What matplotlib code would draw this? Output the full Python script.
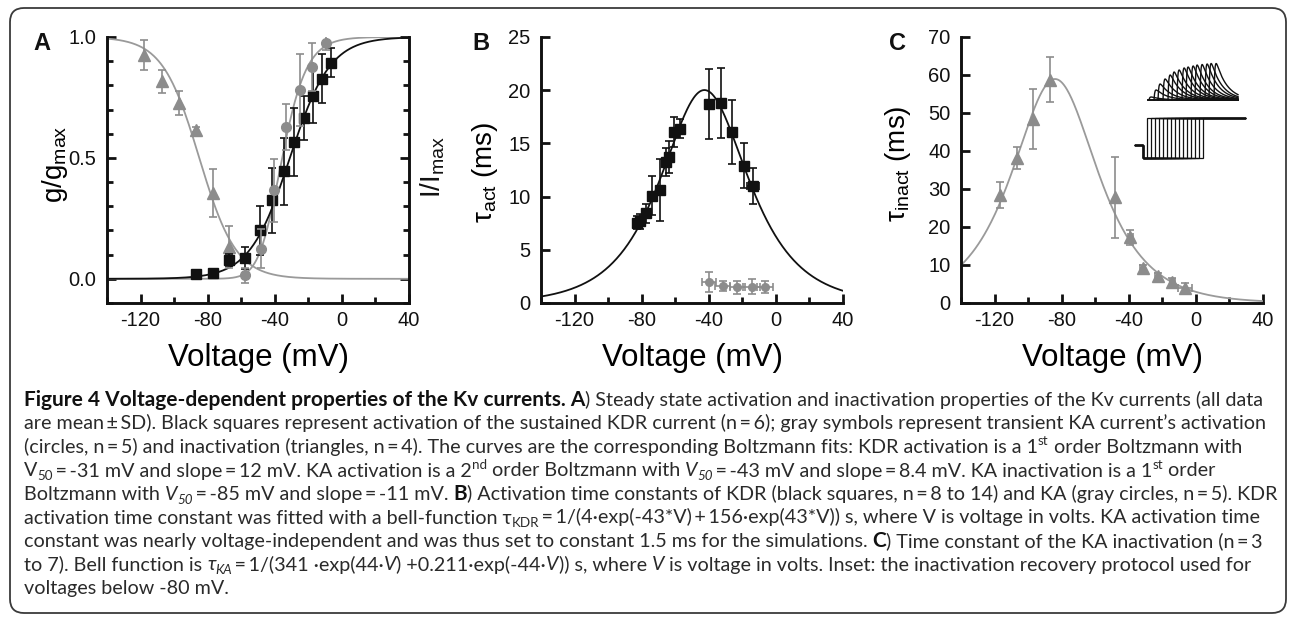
import numpy as np
import matplotlib
matplotlib.use("Agg")
import matplotlib.pyplot as plt
from matplotlib.ticker import MultipleLocator, FormatStrFormatter
from matplotlib.patches import FancyBboxPatch
from matplotlib.transforms import IdentityTransform
from matplotlib.font_manager import FontProperties

plt.rcParams['font.family'] = ['Liberation Sans', 'DejaVu Sans']
plt.rcParams['mathtext.fontset'] = 'custom'
plt.rcParams['mathtext.rm'] = 'Liberation Sans'
plt.rcParams['mathtext.it'] = 'Liberation Sans:italic'
plt.rcParams['mathtext.bf'] = 'Liberation Sans:bold'
plt.rcParams['axes.unicode_minus'] = False

# ---------------- data ----------------
# Panel A: steady-state activation / inactivation
A_tri_v = [-118, -107, -97, -87, -77, -67]
A_tri_g = [0.924, 0.817, 0.727, 0.617, 0.354, 0.131]
A_tri_e = [0.062, 0.048, 0.048, 0.010, 0.100, 0.086]

A_cir_v = [-57.5, -48, -40.7, -33.1, -24.8, -17.6, -9.7]
A_cir_g = [0.014, 0.124, 0.366, 0.628, 0.782, 0.876, 0.975]
A_cir_e = [0.030, 0.080, 0.130, 0.095, 0.148, 0.100, 0.030]

A_sq_v = [-86.8, -76.8, -67.3, -58, -49, -41.4, -34.8, -28.7, -22.6, -17.2, -11.6, -6.7]
A_sq_g = [0.021, 0.023, 0.076, 0.085, 0.200, 0.324, 0.444, 0.566, 0.666, 0.756, 0.828, 0.894]
A_sq_e = [0.008, 0.008, 0.025, 0.045, 0.100, 0.135, 0.140, 0.140, 0.090, 0.110, 0.100, 0.060]

# Boltzmann fit parameters (from caption)
KDR_V50, KDR_k, KDR_order = -31.0, 12.0, 1
KAa_V50, KAa_k, KAa_order = -43.0, 8.4, 2
KAi_V50, KAi_k, KAi_order = -85.0, -11.0, 1

# Panel B: activation time constants
B_sq_v = [-83.0, -81.0, -77.4, -74.0, -69.1, -65.3, -64.0, -61.0, -57.4, -40.0, -32.7, -25.9, -19.0, -13.8]
B_sq_t = [7.55, 7.7, 8.43, 10.1, 10.6, 13.25, 13.7, 16.1, 16.4, 18.7, 18.8, 16.1, 12.9, 11.0]
B_sq_e = [0.6, 0.7, 0.9, 1.8, 2.9, 1.3, 1.5, 1.4, 0.9, 3.3, 3.3, 3.0, 2.1, 1.7]
B_sq_xe = [0, 0, 0, 0, 0, 0, 0, 0, 0, 0, 0, 0, 0, 3.5]

B_cir_v = [-39.9, -31.7, -23.0, -14.4, -6.5]
B_cir_t = [1.97, 1.6, 1.47, 1.53, 1.5]
B_cir_e = [0.9, 0.5, 0.6, 0.7, 0.6]
B_cir_xe = [4.0, 4.5, 4.5, 5.0, 5.0]

# Bell-function parameters (from caption), V in volts, tau in s
KDR_a, KDR_ka, KDR_b, KDR_kb = 4.0, 43.0, 156.0, 43.0
KA_a, KA_ka, KA_b, KA_kb = 341.0, 44.0, 0.211, 44.0

# Panel C: inactivation time constants
C_tri_v = [-116.6, -106.7, -97.2, -86.9, -48.2, -39.2, -31.7, -22.8, -14.2, -6.5]
C_tri_t = [28.4, 38.1, 48.4, 58.8, 27.8, 17.3, 9.1, 7.0, 5.5, 4.0]
C_tri_e = [3.4, 2.9, 8.0, 6.0, 10.6, 2.0, 1.0, 1.0, 1.0, 1.2]
C_tri_xe = [0, 0, 0, 0, 0, 1.5, 1.5, 1.5, 1.5, 4.0]

# Inset (schematic protocol, arbitrary units)
ins_step_t = [19, 23, 27, 31, 35, 39, 43, 47, 51, 55, 59, 63, 67, 71, 75]
ins_cur_t = [21, 26, 30, 35, 40, 44, 49, 54, 58, 63, 67, 72, 77, 81, 86]
ins_cur_a = [3, 10, 16, 21, 25, 28, 30, 32, 33, 34, 35, 35.5, 36, 36.5, 36.5]

# ---------------- figure ----------------
W, H = 1290, 632
fig = plt.figure(figsize=(W / 100, H / 100), dpi=100)

BLACK = '#111111'
GRAYM = '#8c8c8c'
GRAYL = '#9a9a9a'


def px_axes(l, t, r, b):
    return fig.add_axes([l / W, 1 - b / H, (r - l) / W, (b - t) / H])


def style(ax, right=False):
    ax.spines['top'].set_visible(False)
    ax.spines['right'].set_visible(right)
    for s in ax.spines.values():
        s.set_linewidth(2.1)
        s.set_color(BLACK)
    ax.tick_params(which='both', direction='in', width=2.0, colors=BLACK,
                   labelsize=14.5, top=False, right=right)
    ax.tick_params(which='major', length=6.5)
    ax.tick_params(which='minor', length=4.0)
    ax.tick_params(axis='y', pad=7.5)
    ax.tick_params(axis='x', pad=5.5)
    ax.set_xlim(-140, 40)
    ax.xaxis.set_major_locator(MultipleLocator(40))
    ax.xaxis.set_minor_locator(MultipleLocator(20))
    ax.set_xlabel('Voltage (mV)', fontsize=22.5)
    ax.xaxis.set_label_coords(0.5, -0.15)
    ax.set_facecolor('none')


def boltz(v, v50, k, order):
    return (1.0 / (1.0 + np.exp((v50 - v) / k))) ** order


eb = dict(capsize=2.8, elinewidth=1.2, capthick=1.2)

# ---- Panel A ----
axA = px_axes(107, 37, 409, 303)
style(axA, right=True)
axA.set_ylim(-0.1, 1.0)
axA.yaxis.set_major_locator(MultipleLocator(0.5))
axA.yaxis.set_minor_locator(MultipleLocator(0.1))
axA.yaxis.set_major_formatter(FormatStrFormatter('%.1f'))
vv = np.linspace(-140, 40, 400)
axA.plot(vv, boltz(vv, KAi_V50, KAi_k, KAi_order), color=GRAYL, lw=1.3, zorder=2)
axA.plot(vv, boltz(vv, KAa_V50, KAa_k, KAa_order), color=GRAYL, lw=1.3, zorder=2)
axA.plot(vv, boltz(vv, KDR_V50, KDR_k, KDR_order), color=BLACK, lw=1.3, zorder=3)
axA.errorbar(A_tri_v, A_tri_g, yerr=A_tri_e, fmt='^', ms=8.5, color=GRAYM, ecolor=GRAYM,
             zorder=4, **eb)
axA.errorbar(A_sq_v, A_sq_g, yerr=A_sq_e, fmt='s', ms=7, color=BLACK, ecolor=BLACK,
             zorder=5, **eb)
axA.errorbar(A_cir_v, A_cir_g, yerr=A_cir_e, fmt='o', ms=7, color=GRAYM, ecolor=GRAYM,
             zorder=6, **eb)
axA.set_ylabel(r'g/g$_{\mathrm{max}}$', fontsize=20)
axA.yaxis.set_label_coords(-0.1225, 0.52)
axA.text(1.03, 0.51, r'I/I$_{\mathrm{max}}$', transform=axA.transAxes, rotation=90,
         rotation_mode='anchor', ha='center', va='top', fontsize=20, color=BLACK)

# ---- Panel B ----
axB = px_axes(541, 37, 843, 303)
style(axB)
axB.set_ylim(0, 25)
axB.yaxis.set_major_locator(MultipleLocator(5))
Vs = vv / 1000.0
tauB = 1000.0 / (KDR_a * np.exp(-KDR_ka * Vs) + KDR_b * np.exp(KDR_kb * Vs))
axB.plot(vv, tauB, color=BLACK, lw=1.3, zorder=2)
axB.errorbar(B_sq_v, B_sq_t, yerr=B_sq_e, xerr=B_sq_xe, fmt='s', ms=7.5, color=BLACK,
             ecolor=BLACK, zorder=4, **eb)
axB.errorbar(B_cir_v, B_cir_t, yerr=B_cir_e, xerr=B_cir_xe, fmt='o', ms=5.5, color=GRAYM,
             ecolor=GRAYM, zorder=3, **eb)
axB.set_ylabel('\u03c4' + r'$_{\mathrm{act}}$ (ms)', fontsize=20)
axB.yaxis.set_label_coords(-0.136, 0.49)

# ---- Panel C ----
axC = px_axes(961, 37, 1263, 303)
style(axC)
axC.set_ylim(0, 70)
axC.yaxis.set_major_locator(MultipleLocator(10))
tauC = 1000.0 / (KA_a * np.exp(KA_ka * Vs) + KA_b * np.exp(-KA_kb * Vs))
axC.plot(vv, tauC, color=GRAYL, lw=1.3, zorder=2)
axC.errorbar(C_tri_v, C_tri_t, yerr=C_tri_e, xerr=C_tri_xe, fmt='^', ms=8.5, color=GRAYM,
             ecolor=GRAYM, zorder=4, **eb)
axC.set_ylabel('\u03c4' + r'$_{\mathrm{inact}}$ (ms)', fontsize=20)
axC.yaxis.set_label_coords(-0.159, 0.524)

# ---- Inset (recovery protocol schematic) ----
axI = px_axes(1128, 58, 1252, 165)
axI.set_xlim(0, 124)
axI.set_ylim(0, 107)
axI.axis('off')
for tk in ins_step_t:
    axI.plot([7, 15, 15, tk, tk, 117], [20, 20, 7, 7, 47.3, 47.3], color=BLACK, lw=0.9,
             solid_joinstyle='miter')
axI.plot([20, 110], [65, 65], color=BLACK, lw=1.4)
for t0, amp in zip(ins_cur_t, ins_cur_a):
    xs = np.linspace(t0, 110, 300)
    d = xs - t0
    shape = (1 - np.exp(-d / 0.8)) * np.exp(-d / 11.0)
    ys = 65 + amp * shape / shape.max()
    axI.plot(xs, ys, color=BLACK, lw=1.0)

# ---- Panel letters ----
for lab, x in (('A', 33), ('B', 472), ('C', 889)):
    fig.text(x / W, 1 - 50 / H, lab, fontsize=17, fontweight='bold', ha='left',
             va='baseline', color=BLACK)

# ---- frame ----
frame = FancyBboxPatch((10, H - 613), 1276, 605, boxstyle='round,pad=0,rounding_size=14',
                       transform=IdentityTransform(), fill=False, lw=1.3, ec='#3a3a3a')
fig.add_artist(frame)

# ---- caption ----
TS = '\u2009'
EQ = TS + '=' + TS
cap_lines = [
    [("Figure 4 Voltage-dependent properties of the Kv currents. A", 'b'),
     (") Steady state activation and inactivation properties of the Kv currents (all data", 'n')],
    [("are mean" + TS + "\u00b1" + TS + "SD). Black squares represent activation of the sustained KDR current (n" + EQ + "6); gray symbols represent transient KA current\u2019s activation", 'n')],
    [("(circles, n" + EQ + "5) and inactivation (triangles, n" + EQ + "4). The curves are the corresponding Boltzmann fits: KDR activation is a 1", 'n'),
     ("st", 'sup'), (" order Boltzmann with", 'n')],
    [("V", 'n'), ("50", 'sub'), (EQ + "-31 mV and slope" + EQ + "12 mV. KA activation is a 2", 'n'),
     ("nd", 'sup'), (" order Boltzmann with ", 'n'), ("V", 'i'), ("50", 'isub'),
     (EQ + "-43 mV and slope" + EQ + "8.4 mV. KA inactivation is a 1", 'n'),
     ("st", 'sup'), (" order", 'n')],
    [("Boltzmann with ", 'n'), ("V", 'i'), ("50", 'isub'),
     (EQ + "-85 mV and slope" + EQ + "-11 mV. ", 'n'), ("B", 'b'),
     (") Activation time constants of KDR (black squares, n" + EQ + "8 to 14) and KA (gray circles, n" + EQ + "5). KDR", 'n')],
    [("activation time constant was fitted with a bell-function \u03c4", 'n'), ("KDR", 'sub'),
     (EQ + "1/(4\u00b7exp(-43*V)" + TS + "+" + TS + "156\u00b7exp(43*V)) s, where V is voltage in volts. KA activation time", 'n')],
    [("constant was nearly voltage-independent and was thus set to constant 1.5 ms for the simulations. ", 'n'),
     ("C", 'b'), (") Time constant of the KA inactivation (n" + EQ + "3", 'n')],
    [("to 7). Bell function is ", 'n'), ("\u03c4", 'i'), ("KA", 'isub'),
     (EQ + "1/(341 \u00b7exp(44\u00b7", 'n'), ("V", 'i'), (") +0.211\u00b7exp(-44\u00b7", 'n'),
     ("V", 'i'), (")) s, where ", 'n'), ("V", 'i'),
     (" is voltage in volts. Inset: the inactivation recovery protocol used for", 'n')],
    [("voltages below -80 mV.", 'n')],
]
# right ends of the caption lines in the reference (pixels), for layout fitting
cap_line_end = [1258, 1247, 1240, 1236, 1277, 1240, 1274, 1234]

CAP_FAM = ['Lato', 'DejaVu Sans']
renderer = fig.canvas.get_renderer()


def run_prop(kind, size, bsize):
    weight = 'bold' if kind == 'b' else 'normal'
    style_ = 'italic' if kind in ('i', 'isub') else 'normal'
    if kind == 'b':
        fs = bsize
    elif kind in ('sub', 'isub', 'sup'):
        fs = size * 0.68
    else:
        fs = size
    return FontProperties(family=CAP_FAM, size=fs, weight=weight, style=style_)


def width(text, prop):
    w1 = renderer.get_text_width_height_descent('H' + text + 'H', prop, ismath=False)[0]
    w0 = renderer.get_text_width_height_descent('HH', prop, ismath=False)[0]
    return w1 - w0


def line_width(runs, size, bsize, only=None):
    tot = 0.0
    for t, k in runs:
        if only == 'bold' and k != 'b':
            continue
        if only == 'normal' and k == 'b':
            continue
        tot += width(t, run_prop(k, size, bsize))
    return tot


x0, y0, dy_line = 24, 406, 23.5
base = 12.0
num = sum(cap_line_end[i] - x0 for i in range(1, 8))
den = sum(line_width(cap_lines[i], base, base) for i in range(1, 8))
cap_size = base * num / den
norm1 = line_width(cap_lines[0], cap_size, base, only='normal')
bold1 = line_width(cap_lines[0], cap_size, base, only='bold')
bold_size = base * (cap_line_end[0] - x0 - norm1) / bold1
size_px = cap_size * 100 / 72.0

for i, runs in enumerate(cap_lines):
    x = x0
    yb = y0 + i * dy_line
    for text, kind in runs:
        prop = run_prop(kind, cap_size, bold_size)
        off = 0.0
        if kind in ('sub', 'isub'):
            off = -0.2 * size_px
        elif kind == 'sup':
            off = 0.38 * size_px
        col = '#111111' if kind == 'b' else '#2a2a2a'
        fig.text(x / W, 1 - (yb - off) / H, text, fontproperties=prop, ha='left',
                 va='baseline', color=col)
        x += width(text, prop)

fig.savefig('out.png', dpi=100)
